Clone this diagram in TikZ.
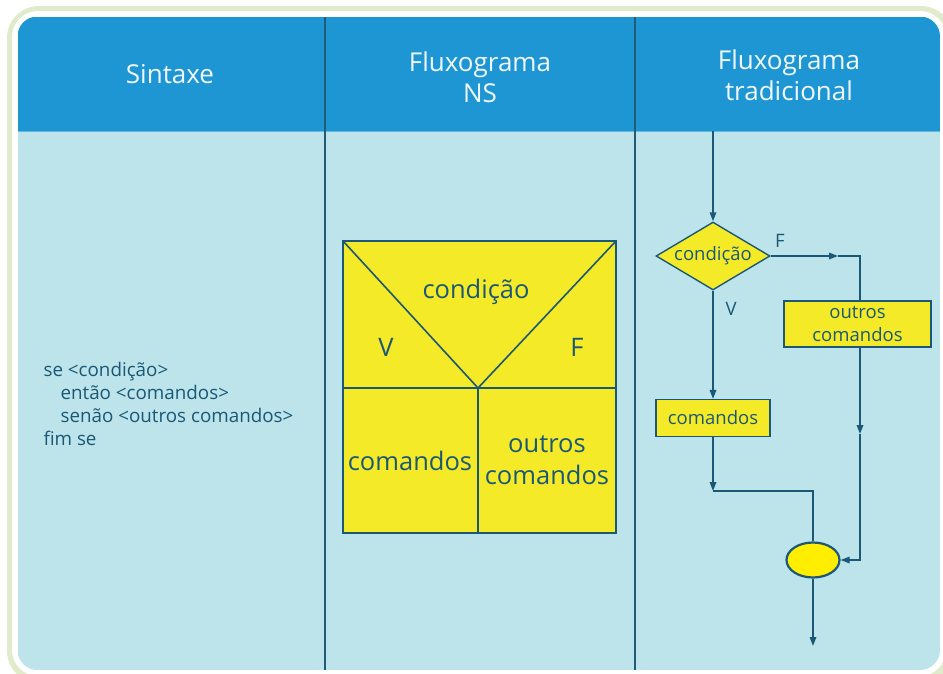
\documentclass[tikz,border=0pt]{standalone}
\usepackage{fontspec}
\setmainfont{Open Sans}
\usetikzlibrary{arrows.meta,shapes.geometric}
\definecolor{framegreen}{RGB}{224,235,204}
\definecolor{headblue}{RGB}{30,150,212}
\definecolor{headline}{RGB}{100,185,225}
\definecolor{bodyblue}{RGB}{188,228,234}
\definecolor{ink}{RGB}{27,88,118}
\definecolor{divider}{RGB}{35,90,118}
\definecolor{boxyellow}{RGB}{245,234,40}
\definecolor{ovalyellow}{RGB}{255,238,0}
\definecolor{headtext}{RGB}{240,248,252}
\begin{document}
\begin{tikzpicture}[x=1pt,y=-1pt,
  headtxt/.style={text=headtext, align=center, font=\fontsize{26}{31}\selectfont},
  nstxt/.style={text=ink, align=center, font=\fontsize{25.5}{32}\selectfont},
  smalltxt/.style={text=ink, align=center, font=\fontsize{18.5}{23}\selectfont},
  flow/.style={draw=ink, line width=1.6pt},
  arr/.style={flow, -{Triangle[length=9pt,width=6.5pt]}},
  nsline/.style={draw=ink, line width=1.6pt},
  stepbox/.style={draw=ink, line width=1.2pt, fill=boxyellow, inner sep=0pt, text=ink, align=center, font=\fontsize{18.5}{23}\selectfont},
  decision/.style={diamond, draw=ink, line width=1.4pt, fill=boxyellow, inner sep=0pt, shape aspect=1.68, minimum width=114pt, minimum height=68pt, text=ink, font=\fontsize{18.5}{23}\selectfont},
  joint/.style={ellipse, draw=ink, line width=2.2pt, fill=ovalyellow, minimum width=53pt, minimum height=35pt, inner sep=0pt}
]
\useasboundingbox (0,0) rectangle (943,673);
% frame
\fill[framegreen, rounded corners=32pt] (7,6) rectangle (953,683);
\fill[white, rounded corners=26pt] (12,11) rectangle (946,676);
\begin{scope}
  \clip[rounded corners=20pt] (17.5,16.5) rectangle (940,670);
  \fill[bodyblue] (17.5,16.5) rectangle (940,670);
  \fill[headblue] (17.5,16.5) rectangle (940,131);
  \draw[headline, line width=1pt] (17.5,131) -- (940,131);
\end{scope}
\draw[divider, line width=1.6pt] (325,16.5) -- (325,670);
\draw[divider, line width=1.6pt] (635,16.5) -- (635,670);
% headers
\node[headtxt] (h1) at (170,74) {Sintaxe};
\node[headtxt] (h2) at (480,77) {Fluxograma\\NS};
\node[headtxt] (h3) at (789,75) {Fluxograma\\tradicional};
% syntax
\node[anchor=west, text=ink, align=left, font=\fontsize{18.8}{23}\selectfont] (syn) at (40,404)
  {se <condição>\\\hspace*{17pt}então <comandos>\\\hspace*{17pt}senão <outros comandos>\\fim se};
% NS chart
\coordinate (nsTL) at (343,241);
\coordinate (nsTR) at (616,241);
\coordinate (nsBL) at (343,533);
\coordinate (nsBR) at (616,533);
\coordinate (nsML) at (343,388);
\coordinate (nsMR) at (616,388);
\coordinate (nsV) at (478,388);
\coordinate (nsB) at (478,533);
\fill[boxyellow] (nsTL) rectangle (nsBR);
\draw[nsline] (nsTL) -- (nsV) -- (nsTR);
\draw[nsline] (nsML) -- (nsMR);
\draw[nsline] (nsV) -- (nsB);
\draw[nsline] (nsTL) rectangle (nsBR);
\node[nstxt] (nscond) at (476,292) {condição};
\node[nstxt] (nsv) at (386,347) {V};
\node[nstxt] (nsf) at (577,347) {F};
\node[nstxt] (nscmd) at (410,461) {comandos};
\node[nstxt] (nsout) at (547,460) {outros\\comandos};
% traditional flowchart
\coordinate (start) at (713,131);
\node[decision] (d) at (713,256) {condição};
\node[stepbox, minimum width=114pt, minimum height=37pt] (cmd) at (713,418) {comandos};
\node[stepbox, minimum width=147pt, minimum height=46pt] (outros) at (857.5,324) {outros\\comandos};
\node[joint] (end) at (813,560) {};
\coordinate (fmid) at (838,256);
\coordinate (fcorner) at (860,256);
\coordinate (omid) at (860,434);
\coordinate (ocorner) at (860,560);
\coordinate (cjoin) at (713,491);
\coordinate (stop) at (813,646);
\draw[arr] (start) -- (d.north);
\draw[arr] (d.east) -- (fmid);
\draw[flow] (fmid) -- (fcorner) -- (fcorner |- outros.north);
\draw[arr] (fcorner |- outros.south) -- (omid);
\draw[arr] (omid) -- (ocorner) -- (end.east);
\draw[arr] (d.south) -- (cmd.north);
\draw[arr] (cmd.south) -- (cjoin);
\draw[flow] (cjoin) -- (cjoin -| end) -- (end.north);
\draw[arr] (end.south) -- (stop);
\node[smalltxt] (lf) at (780,241) {F};
\node[smalltxt] (lv) at (731,309) {V};
\end{tikzpicture}
\end{document}
